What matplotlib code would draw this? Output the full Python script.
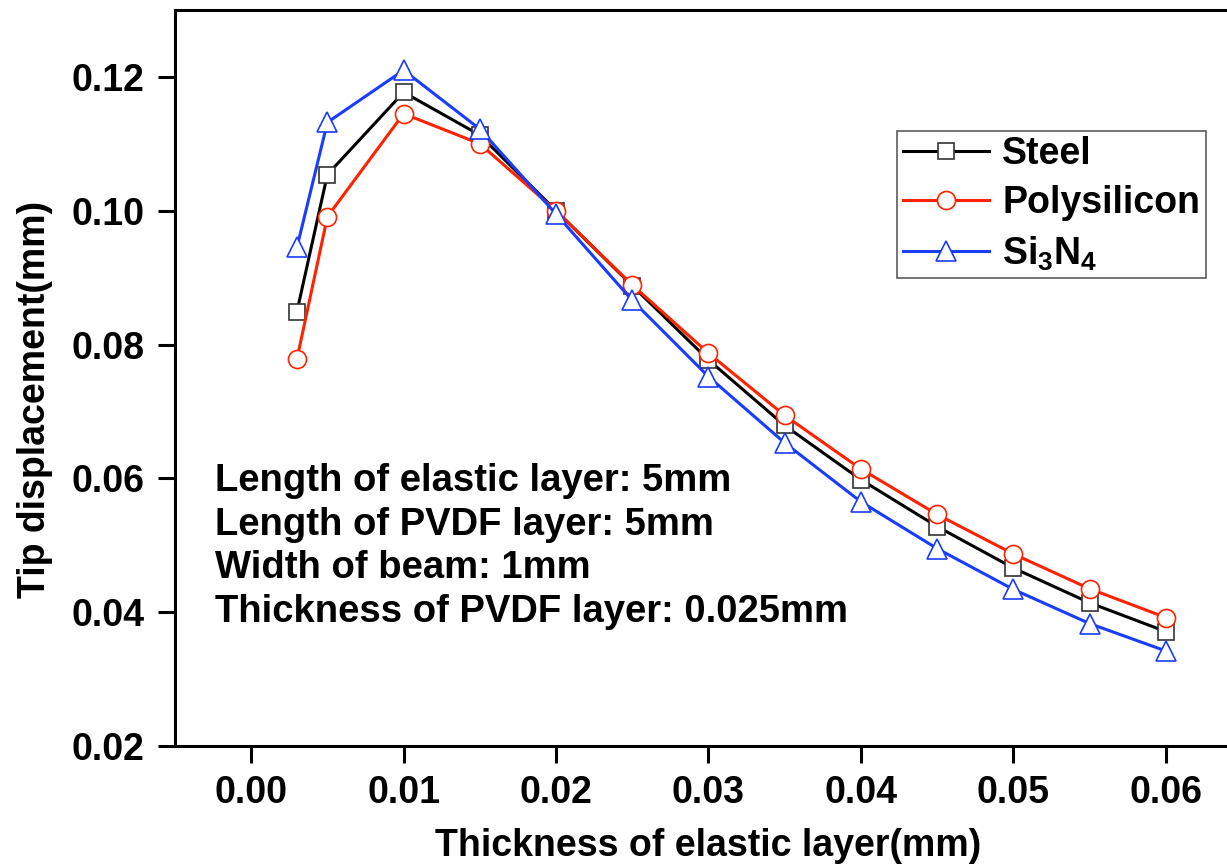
import numpy as np
import matplotlib
matplotlib.use("Agg")
import matplotlib.pyplot as plt

plt.rcParams['font.family'] = ['Liberation Sans', 'DejaVu Sans']
plt.rcParams['font.weight'] = 'bold'
plt.rcParams['axes.labelweight'] = 'bold'
plt.rcParams['mathtext.fontset'] = 'custom'
plt.rcParams['mathtext.rm'] = 'Liberation Sans:bold'
plt.rcParams['mathtext.default'] = 'rm'

# 弹性层厚度 (mm)
thickness = [0.003, 0.005, 0.010, 0.015, 0.020, 0.025, 0.030,
             0.035, 0.040, 0.045, 0.050, 0.055, 0.060]

# 端部位移 (mm)
steel = [0.0849, 0.1054, 0.1177, 0.1113, 0.1000, 0.0888, 0.0777,
         0.0679, 0.0598, 0.0528, 0.0466, 0.0414, 0.0371]
polysilicon = [0.0778, 0.0991, 0.1145, 0.1100, 0.1000, 0.0889, 0.0787,
               0.0694, 0.0614, 0.0546, 0.0487, 0.0435, 0.0392]
si3n4 = [0.0945, 0.1132, 0.1210, 0.1122, 0.0995, 0.0866, 0.0752,
         0.0653, 0.0565, 0.0495, 0.0434, 0.0383, 0.0342]

labels = ['Steel', 'Polysilicon', r'Si$_{3}$N$_{4}$']
notes = ['Length of elastic layer: 5mm',
         'Length of PVDF layer: 5mm',
         'Width of beam: 1mm',
         'Thickness of PVDF layer: 0.025mm']

fig = plt.figure(figsize=(12.27, 8.67), dpi=100)
ax = fig.add_axes([0.1426, 0.1396, 0.8696, 0.8489])

ax.plot(thickness, steel, color='black', lw=2.2, marker='s', ms=12,
        mfc='white', mec='#333333', mew=1.2, label=labels[0])
ax.plot(thickness, polysilicon, color='#FF2200', lw=2.2, marker='o', ms=13,
        mfc='white', mec='#FF2200', mew=1.2, label=labels[1])
ax.plot(thickness, si3n4, color='#1A3CFF', lw=2.2, marker='^', ms=14,
        mfc='white', mec='#1A3CFF', mew=1.2, label=labels[2])

ax.set_xlim(-0.005, 0.065)
ax.set_ylim(0.02, 0.13)
ax.set_xticks(np.arange(0, 0.061, 0.01))
ax.set_yticks(np.arange(0.02, 0.121, 0.02))
ax.xaxis.set_major_formatter(matplotlib.ticker.FormatStrFormatter('%.2f'))
ax.yaxis.set_major_formatter(matplotlib.ticker.FormatStrFormatter('%.2f'))
ax.tick_params(axis='both', direction='out', length=12, width=2.2, labelsize=27)
ax.tick_params(axis='x', pad=9)
ax.tick_params(axis='y', pad=10)
for s in ax.spines.values():
    s.set_linewidth(2.2)

ax.set_xlabel('Thickness of elastic layer(mm)', fontsize=27, labelpad=12)
ax.set_ylabel('Tip displacement(mm)', fontsize=27)
ax.yaxis.set_label_coords(-0.114, 0.4715)

ax.text(0.0375, 0.384, '\n'.join(notes), transform=ax.transAxes, fontsize=27.5,
        va='top', ha='left', linespacing=1.27)

leg = ax.legend(loc='upper right', bbox_to_anchor=(0.966, 0.836), borderaxespad=0,
                fontsize=27, fancybox=False, edgecolor='#333333', handlelength=2.3,
                handletextpad=0.35, borderpad=0.15, labelspacing=0.35)
leg.get_frame().set_linewidth(1.2)

fig.savefig('out.png', dpi=100)
